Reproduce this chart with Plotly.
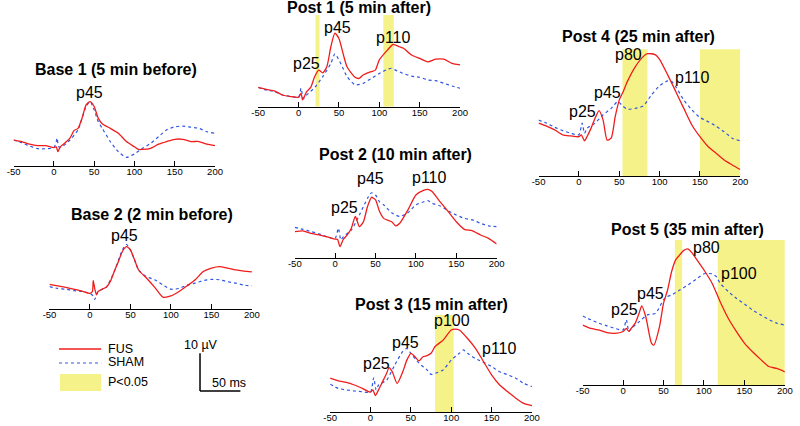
import plotly.graph_objects as go

W, H = 800, 426

# ---------------- data (µV vs ms) ----------------
ticks = [-50, 0, 50, 100, 150, 200]

base1_fus_t = [-50,-40,-30,-20,-10,0,3,5,8,12,20,25,30,35,40,45,50,55,60,70,80,90,100,105,110,120,130,140,150,160,170,180,190,200]
base1_fus = [5.3,4.9,4.2,3.8,3.8,3.3,3.5,2.2,3.5,4.2,5.8,7.8,8.4,11.1,14.6,15.5,14.2,11.1,9.6,8.4,7.1,4.9,3.5,2.8,2.8,3.1,4.2,4.9,5.5,5.5,4.9,4.9,4.2,3.8]
base1_sham_t = [-50,-40,-30,-20,-10,0,3,4,6,10,20,30,40,45,50,55,60,70,80,90,100,110,120,130,140,150,160,170,180,190,200]
base1_sham = [5.3,4.6,3.7,3.0,3.0,3.3,4.9,5.8,3.5,3.5,5.3,8.0,14.2,15.5,13.3,10.2,8.4,4.9,2.2,0.7,1.6,3.1,4.4,6.2,8.0,8.8,9.0,8.7,8.4,7.5,7.1]

base2_fus_t = [-50,-40,-30,-20,-10,0,3,4,6,8,10,15,20,25,30,35,40,45,50,55,60,70,80,90,100,110,120,130,140,150,160,170,180,190,200]
base2_fus = [6.1,5.7,5.3,4.8,4.3,3.7,4.2,7.1,4.8,3.3,4.2,4.8,5.3,6.8,9.5,12.1,14.8,16.1,15.2,12.6,9.9,7.7,5.3,2.7,3.0,4.2,5.7,7.3,9.5,10.4,10.8,10.4,9.9,9.6,9.4]
base2_sham_t = [-50,-40,-30,-20,-10,0,4,6,8,10,20,30,40,45,50,55,60,70,80,90,100,110,120,130,140,150,160,170,180,190,200]
base2_sham = [5.5,5.0,4.8,4.4,4.2,3.7,3.0,2.1,3.3,4.2,5.3,9.5,15.2,16.7,15.2,12.6,9.9,8.1,7.3,5.9,4.8,5.0,5.9,6.4,7.1,7.4,7.3,6.8,6.4,5.9,5.7]

post1_fus_t = [-50,-40,-30,-20,-10,0,3,5,8,10,15,20,25,30,35,40,45,50,55,60,70,75,80,90,95,100,110,117,125,130,140,150,160,170,180,190,200]
post1_fus = [5.1,4.6,4.2,3.1,2.7,2.5,3.5,1.8,3.1,4.0,5.1,8.0,9.7,9.0,10.6,15.9,19.5,18.1,14.2,10.6,7.8,7.5,8.4,9.3,9.7,12.4,15.0,16.5,15.9,15.5,13.7,12.8,11.9,12.6,12.6,11.5,11.1]
post1_sham_t = [-50,-40,-30,-20,-10,0,3,6,10,20,30,40,45,50,55,60,70,80,90,100,110,115,120,130,140,150,160,170,180,190,200]
post1_sham = [5.1,4.4,4.0,3.1,2.7,2.5,4.9,2.2,3.1,5.1,8.0,11.5,14.0,12.4,10.2,8.0,5.8,6.2,7.5,8.8,9.9,10.2,9.7,8.8,8.1,7.8,7.1,6.9,6.2,5.5,4.9]

post2_fus_t = [-50,-40,-30,-20,-10,0,3,6,10,15,20,25,30,35,40,45,50,55,60,70,75,80,90,100,110,115,120,130,140,150,160,170,180,190,200]
post2_fus = [6.4,6.6,5.9,5.5,5.0,4.4,4.3,2.4,4.3,5.5,7.3,10.4,7.7,9.0,13.0,15.5,14.8,11.7,9.9,9.0,7.9,8.6,12.1,16.1,17.4,17.6,17.0,14.3,11.7,9.0,7.0,6.6,5.5,4.6,3.1]
post2_sham_t = [-50,-40,-30,-20,-10,0,4,7,10,20,30,40,45,50,55,60,70,80,90,100,110,115,120,130,140,150,160,170,180,190,200]
post2_sham = [7.5,7.0,6.4,5.8,5.0,4.6,7.3,4.2,5.0,6.8,10.8,15.2,16.7,16.1,14.3,13.5,11.4,10.4,11.4,13.5,14.3,14.6,13.9,13.2,11.9,10.8,9.9,9.5,8.6,7.9,7.7]

post3_fus_t = [-50,-40,-30,-20,-10,0,3,6,10,15,20,23,27,33,40,45,50,55,60,65,70,75,80,90,100,105,110,120,130,140,150,160,170,180,190,200]
post3_fus = [8.7,8.0,7.6,6.9,6.0,5.0,5.6,4.1,5.6,7.8,10.0,11.5,10.4,7.3,10.4,13.5,15.3,14.4,13.3,14.4,14.7,15.3,17.1,18.8,21.5,21.7,21.5,19.3,16.6,13.1,9.6,6.9,5.1,3.4,2.0,1.4]
post3_sham_t = [-50,-40,-30,-20,-10,0,4,7,10,20,30,40,45,50,60,70,75,80,90,100,110,115,120,130,140,150,160,170,180,190,200]
post3_sham = [7.1,6.0,5.6,5.3,5.1,5.0,8.8,5.6,6.9,8.2,12.2,15.8,16.6,15.3,12.7,10.9,9.7,10.0,10.9,13.5,15.3,16.2,15.3,13.9,12.9,11.8,10.4,9.6,8.7,7.3,6.5]

post4_fus_t = [-50,-40,-30,-20,-10,0,3,7,10,15,20,25,30,35,40,45,50,55,60,70,80,85,90,95,100,110,120,130,140,150,160,170,180,190,200]
post4_fus = [13.5,12.7,11.7,10.4,10.1,9.9,10.4,8.8,9.9,12.1,14.8,16.8,14.3,9.0,9.5,15.2,19.6,21.9,24.5,28.5,31.2,31.9,31.9,31.6,30.4,26.3,21.9,17.4,13.0,9.9,7.3,5.5,3.7,2.4,1.2]
post4_sham_t = [-50,-40,-30,-20,-10,0,4,7,10,20,30,40,48,55,60,70,80,90,100,110,115,120,130,140,150,160,170,180,190,200]
post4_sham = [14.3,13.5,12.4,11.5,10.8,10.4,13.5,10.8,12.1,13.5,15.7,17.4,19.2,17.9,17.2,17.4,18.1,21.0,23.4,24.7,24.5,23.2,19.6,17.0,15.0,13.9,12.7,11.2,9.5,8.8]

post5_fus_t = [-50,-40,-30,-20,-10,0,4,7,10,15,20,23,28,35,38,45,50,55,60,65,70,75,80,85,90,100,110,120,130,140,150,160,170,180,190,200]
post5_fus = [15.9,15.0,14.6,13.9,13.7,14.2,15.0,14.2,15.0,16.4,19.2,21.0,18.1,11.1,10.6,15.5,21.7,25.2,30.1,33.2,34.5,35.7,36.1,35.1,33.6,30.5,27.0,22.1,17.7,14.2,11.1,8.8,6.8,4.9,4.4,3.5]
post5_sham_t = [-50,-40,-30,-20,-10,0,4,7,10,20,30,40,50,55,60,70,80,90,100,110,115,120,130,140,150,160,170,180,190,200]
post5_sham = [18.3,17.3,16.4,15.7,15.0,14.6,17.3,14.2,15.0,16.8,18.6,19.0,22.6,23.5,23.9,25.2,26.5,28.0,29.5,29.5,28.8,27.0,24.8,23.0,21.5,19.9,18.6,17.4,16.4,15.9]

# significance windows (ms) P<0.05
post1_sig = [(21, 26), (105, 118)]
post3_sig = [(80, 103)]
post4_sig = [(54, 85), (150, 200)]
post5_sig = [(64, 73), (117, 200)]

titles = ["Base 1 (5 min before)", "Base 2 (2 min before)", "Post 1 (5 min after)",
          "Post 2 (10 min after)", "Post 3 (15 min after)", "Post 4 (25 min after)",
          "Post 5 (35 min after)"]

# ---------------- styling / geometry ----------------
RED = "#f01c1c"
BLUE = "#2f55e4"
YEL = "#f6f28a"
FONT = "Liberation Sans, Arial, sans-serif"
PX_PER_UV = 3.77
PX_PER_MS = 0.823

panels = [
    dict(x0=6.7, x1=212, zero=160, line=166, bt=None, title=(111, 69),
         fus=(base1_fus_t, base1_fus), sham=(base1_sham_t, base1_sham), sig=[],
         peaks=[("p45", 84, 93)]),
    dict(x0=43.3, x1=249.6, zero=307.3, line=308.5, bt=None, title=(148, 215),
         fus=(base2_fus_t, base2_fus), sham=(base2_sham_t, base2_sham), sig=[],
         peaks=[("p45", 120, 235)]),
    dict(x0=256, x1=461.7, zero=106.7, line=106.7, bt=15, title=(359, 7),
         fus=(post1_fus_t, post1_fus), sham=(post1_sham_t, post1_sham), sig=post1_sig,
         peaks=[("p25", 305, 63), ("p45", 337, 27), ("p110", 394, 37)]),
    dict(x0=293.3, x1=499, zero=255.7, line=257.5, bt=None, title=(396, 154),
         fus=(post2_fus_t, post2_fus), sham=(post2_sham_t, post2_sham), sig=[],
         peaks=[("p25", 343.5, 208), ("p45", 370.5, 178), ("p110", 431, 177)]),
    dict(x0=329.3, x1=535, zero=411, line=412, bt=315, title=(432.5, 304.5),
         fus=(post3_fus_t, post3_fus), sham=(post3_sham_t, post3_sham), sig=post3_sig,
         peaks=[("p25", 377, 363), ("p45", 406, 342), ("p100", 453, 320), ("p110", 502, 348)]),
    dict(x0=541.7, x1=747.3, zero=174, line=176, bt=49.3, title=(644, 36),
         fus=(post4_fus_t, post4_fus), sham=(post4_sham_t, post4_sham), sig=post4_sig,
         peaks=[("p25", 587, 111), ("p45", 612, 92), ("p80", 633, 55), ("p110", 699, 78)]),
    dict(x0=586.7, x1=792.7, zero=385, line=385, bt=240, title=(693, 229),
         fus=(post5_fus_t, post5_fus), sham=(post5_sham_t, post5_sham), sig=post5_sig,
         peaks=[("p25", 629, 309), ("p45", 656, 293), ("p80", 713, 247), ("p100", 746, 273)]),
]


def fx(p):
    return p / W


def fy(p):
    return 1 - p / H


fig = go.Figure()
layout = dict(width=W, height=H, margin=dict(l=0, r=0, t=0, b=0, pad=0),
              paper_bgcolor="white", plot_bgcolor="rgba(0,0,0,0)",
              showlegend=False, font=dict(family=FONT, color="black"))
shapes = []
annotations = []

for i, p in enumerate(panels, start=1):
    sfx = "" if i == 1 else str(i)
    xa, ya = "x" + sfx, "y" + sfx
    top_px = max(1.0, p["zero"] - 150)
    ymin = -(p["line"] - p["zero"]) / PX_PER_UV
    ymax = (p["zero"] - top_px) / PX_PER_UV
    layout["xaxis" + sfx] = dict(
        domain=[fx(p["x0"]), fx(p["x1"])], range=[-50, 200], anchor=ya,
        tickvals=ticks, ticktext=[str(t) for t in ticks], ticks="inside", ticklen=5,
        tickwidth=1, tickcolor="black", showline=True, linecolor="black", linewidth=1,
        showgrid=False, zeroline=False, tickfont=dict(size=9.5, family=FONT, color="black"),
        ticklabelstandoff=-3, fixedrange=True)
    layout["yaxis" + sfx] = dict(
        domain=[fy(p["line"]), fy(top_px)], range=[ymin, ymax], anchor=xa,
        visible=False, showgrid=False, zeroline=False, fixedrange=True)

    for (a, b) in p["sig"]:
        shapes.append(dict(type="rect", xref=xa, yref=ya, x0=a, x1=b,
                           y0=ymin, y1=(p["zero"] - p["bt"]) / PX_PER_UV,
                           fillcolor=YEL, line=dict(width=0), layer="below"))

    fig.add_trace(go.Scatter(x=p["sham"][0], y=p["sham"][1], xaxis=xa, yaxis=ya,
                             mode="lines", line=dict(color=BLUE, width=1.2, dash="dot",
                                                     shape="spline", smoothing=0.6),
                             name="SHAM", hoverinfo="skip"))
    fig.add_trace(go.Scatter(x=p["fus"][0], y=p["fus"][1], xaxis=xa, yaxis=ya,
                             mode="lines", line=dict(color=RED, width=1.3,
                                                     shape="spline", smoothing=0.6),
                             name="FUS", hoverinfo="skip"))

    cx, cy = p["title"]
    annotations.append(dict(text="<b>" + titles[i - 1] + "</b>", x=fx(cx), y=fy(cy),
                            xref="paper", yref="paper", xanchor="center", yanchor="middle",
                            showarrow=False, font=dict(size=16, family=FONT, color="black")))
    for (lab, lx, ly) in p["peaks"]:
        annotations.append(dict(text=lab, x=fx(lx), y=fy(ly), xref="paper", yref="paper",
                                xanchor="center", yanchor="middle", showarrow=False,
                                font=dict(size=16, family=FONT, color="black")))

# ---------------- legend ----------------
shapes.append(dict(type="line", xref="paper", yref="paper", x0=fx(53), x1=fx(96),
                   y0=fy(349), y1=fy(349), line=dict(color=RED, width=1.3)))
shapes.append(dict(type="line", xref="paper", yref="paper", x0=fx(53), x1=fx(96),
                   y0=fy(363), y1=fy(363), line=dict(color=BLUE, width=1.2, dash="dot")))
shapes.append(dict(type="rect", xref="paper", yref="paper", x0=fx(54), x1=fx(96),
                   y0=fy(391), y1=fy(374), fillcolor=YEL, line=dict(width=0)))
for lab, ly in [("FUS", 349), ("SHAM", 362), ("P<0.05", 382)]:
    annotations.append(dict(text=lab, x=fx(101), y=fy(ly), xref="paper", yref="paper",
                            xanchor="left", yanchor="middle", showarrow=False,
                            font=dict(size=12.5, family=FONT, color="black")))

# ---------------- scale bar ----------------
sb_x, sb_y = 196.7, 391
shapes.append(dict(type="line", xref="paper", yref="paper", x0=fx(sb_x), x1=fx(sb_x),
                   y0=fy(sb_y), y1=fy(sb_y - 10 * PX_PER_UV), line=dict(color="black", width=1.5)))
shapes.append(dict(type="line", xref="paper", yref="paper", x0=fx(sb_x), x1=fx(sb_x + 50 * PX_PER_MS),
                   y0=fy(sb_y), y1=fy(sb_y), line=dict(color="black", width=1.5)))
annotations.append(dict(text="10 µV", x=fx(198), y=fy(345), xref="paper", yref="paper",
                        xanchor="center", yanchor="middle", showarrow=False,
                        font=dict(size=12.5, family=FONT, color="black")))
annotations.append(dict(text="50 ms", x=fx(207), y=fy(383), xref="paper", yref="paper",
                        xanchor="left", yanchor="middle", showarrow=False,
                        font=dict(size=12.5, family=FONT, color="black")))

layout["shapes"] = shapes
layout["annotations"] = annotations
fig.update_layout(**layout)
fig.write_html("out.html", config={"displayModeBar": False},
               post_script="document.body.style.margin='0';document.body.style.padding='0';")
